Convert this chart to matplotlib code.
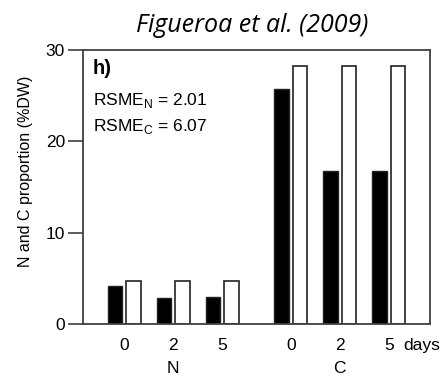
import numpy as np
import matplotlib.pyplot as plt

# values (%DW)
groups = ["N", "C"]
days = ["0", "2", "5"]
observed = [4.2, 2.8, 3.0, 25.7, 16.8, 16.7]
modelled = [4.7, 4.7, 4.7, 28.3, 28.3, 28.3]
rsme_n = 2.01
rsme_c = 6.07

# bar positions: three days per group, wider gap between groups
pos = np.array([0, 1, 2, 3.4, 4.4, 5.4])
w = 0.3
off = 0.19

fs = 12.5
fig = plt.figure(figsize=(4.4, 3.76), dpi=100)
ax = fig.add_axes([83/440, 1 - 324/376, (430-83)/440, (324-50)/376])

ec = "#222222"
ax.bar(pos - off, observed, width=w, color="black", edgecolor=ec, linewidth=1)
ax.bar(pos + off, modelled, width=w, color="white", edgecolor=ec, linewidth=1.2)

ax.set_xlim(-0.84, 6.24)
ax.set_ylim(0, 30)
ax.set_yticks([0, 10, 20, 30])
ax.tick_params(axis="y", length=11, width=1.2, color="#404040", labelsize=fs, pad=2)
ax.set_xticks(pos)
ax.set_xticklabels(days * 2, fontsize=fs)
ax.tick_params(axis="x", length=0, pad=9.8)
for s in ax.spines.values():
    s.set_color("#404040")
    s.set_linewidth(1.3)

# group labels under the day ticks
for i, g in enumerate(groups):
    ax.text(pos[3*i + 1], -0.162, g, transform=ax.get_xaxis_transform(),
            ha="center", va="center", fontsize=fs)
ax.text(5.69, -0.077, "days", transform=ax.get_xaxis_transform(),
        ha="left", va="center", fontsize=fs)

ax.set_ylabel("N and C proportion (%DW)", fontsize=11.5)
ax.yaxis.set_label_coords(-0.145, 0.558)

ax.text(0.029, 0.934, "h)", transform=ax.transAxes, fontsize=14.5,
        fontweight="bold", va="center")
ax.text(0.029, 0.814, r"RSME$_\mathregular{N}$ = %.2f" % rsme_n,
        transform=ax.transAxes, fontsize=fs, va="center")
ax.text(0.029, 0.719, r"RSME$_\mathregular{C}$ = %.2f" % rsme_c,
        transform=ax.transAxes, fontsize=fs, va="center")

fig.text(252/440, 1 - 25/376, "Figueroa et al. (2009)", ha="center", va="center",
         fontsize=18, style="italic", family="Open Sans")

for t in ax.get_xticklabels() + ax.get_yticklabels():
    t.set_family("Liberation Sans")
for t in ax.texts + [ax.yaxis.label]:
    t.set_family("Liberation Sans")

fig.savefig("out.png", dpi=100)
